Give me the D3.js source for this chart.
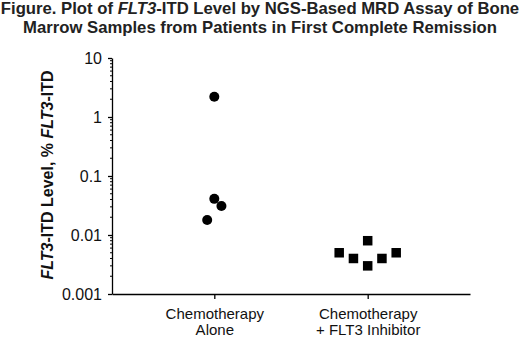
<!DOCTYPE html>
<html>
<head>
<meta charset="utf-8">
<script src="https://cdn.jsdelivr.net/npm/d3@7"></script>
<style>
	body { margin: 0; background: #fff; }
	svg { display: block; font-family: Arial, 'Liberation Sans', sans-serif; }
	.title { font-size: 16.7px; font-weight: bold; fill: #222; }
	.label--y { font-size: 16px; font-weight: bold; fill: #111; }
	.axis text { font-size: 15px; fill: #111; font-family: Arial, 'Liberation Sans', sans-serif; }
	.axis--y text { font-size: 16px; }
	.axis path, .axis line { stroke: #000; stroke-width: 1.3; }
</style>
</head>
<body>
<div class="graphic__chart"></div>
<script>
// data
const categories = ['Chemotherapy Alone', 'Chemotherapy + FLT3 Inhibitor']
const categoryLines = [['Chemotherapy', 'Alone'], ['Chemotherapy', '+ FLT3 Inhibitor']]
const chemoValues = [2.2, 0.041, 0.031, 0.018]
const chemoJitter = [0, 0, 0.5, -0.5]
const flt3Values = [0.008, 0.005, 0.004, 0.003, 0.004, 0.005]
const flt3Jitter = [0, -2, -1, 0, 1, 2]
const yTicks = [0.001, 0.01, 0.1, 1, 10]
const yTickLabels = ['0.001', '0.01', '0.1', '1', '10']

const WIDTH = 520
const HEIGHT = 338
const margin = { top: 58, right: 50, bottom: 44, left: 112 }
const innerW = WIDTH - margin.left - margin.right
const innerH = HEIGHT - margin.top - margin.bottom

const svg = d3.select('.graphic__chart').append('svg')
	.attr('width', WIDTH)
	.attr('height', HEIGHT)

// title
const title = svg.append('text')
	.attr('class', 'title')
	.attr('text-anchor', 'middle')
	.attr('x', WIDTH / 2)

title.append('tspan').attr('x', WIDTH / 2).attr('y', 14)
	.text('Figure. Plot of ')
title.append('tspan').attr('font-style', 'italic').text('FLT3')
title.append('tspan').text('-ITD Level by NGS-Based MRD Assay of Bone')
title.append('tspan').attr('x', WIDTH / 2).attr('y', 33)
	.text('Marrow Samples from Patients in First Complete Remission')

const g = svg.append('g')
	.attr('transform', `translate(${margin.left},${margin.top})`)

// scales
const y = d3.scaleLog().domain([0.001, 10]).range([innerH, 0])
const x = d3.scalePoint().domain(categories).range([0, innerW]).padding(0.667)
const jitter = d3.scaleLinear().domain([-2, 2]).range([-28.5, 28.5])

// y axis: majors
g.append('g')
	.attr('class', 'axis axis--y')
	.call(d3.axisLeft(y).tickValues(yTicks).tickFormat((d, i) => yTickLabels[i]).tickSize(4).tickSizeOuter(0).tickPadding(6))

// y axis: minor ticks
const minors = []
for (let e = -3; e < 1; e++) {
	for (let k = 2; k <= 9; k++) minors.push(k * Math.pow(10, e))
}
g.append('g')
	.attr('class', 'axis axis--minor')
	.selectAll('line')
	.data(minors)
	.enter().append('line')
		.attr('x1', -2)
		.attr('x2', 0)
		.attr('y1', d => y(d))
		.attr('y2', d => y(d))
		.style('stroke-width', 1)

// x axis
const xAxis = g.append('g')
	.attr('class', 'axis axis--x')
	.attr('transform', `translate(0,${innerH})`)
	.call(d3.axisBottom(x).tickSize(5).tickSizeOuter(0).tickFormat(''))

xAxis.selectAll('.tick').each(function (d, i) {
	const t = d3.select(this).append('text')
		.attr('text-anchor', 'middle')
		.attr('fill', '#111')
	categoryLines[i].forEach((line, j) => {
		t.append('tspan').attr('x', 0).attr('y', 25 + j * 16).text(line)
	})
})

// y label
const label = svg.append('text')
	.attr('class', 'label--y')
	.attr('text-anchor', 'middle')
	.attr('transform', 'translate(52.5,175) rotate(-90)')
label.append('tspan').attr('font-style', 'italic').text('FLT3')
label.append('tspan').text('-ITD Level, % ')
label.append('tspan').attr('font-style', 'italic').text('FLT3')
label.append('tspan').text('-ITD')

// points
const chemo = chemoValues.map((v, i) => ({ v, j: chemoJitter[i] }))
const flt3 = flt3Values.map((v, i) => ({ v, j: flt3Jitter[i] }))

g.append('g').selectAll('circle')
	.data(chemo)
	.enter().append('circle')
		.attr('cx', d => x(categories[0]) + jitter(d.j))
		.attr('cy', d => y(d.v))
		.attr('r', 5)
		.attr('fill', '#000')

const SQ = 9.5
g.append('g').selectAll('rect')
	.data(flt3)
	.enter().append('rect')
		.attr('x', d => x(categories[1]) + jitter(d.j) - SQ / 2)
		.attr('y', d => y(d.v) - SQ / 2)
		.attr('width', SQ)
		.attr('height', SQ)
		.attr('fill', '#000')
</script>
</body>
</html>
